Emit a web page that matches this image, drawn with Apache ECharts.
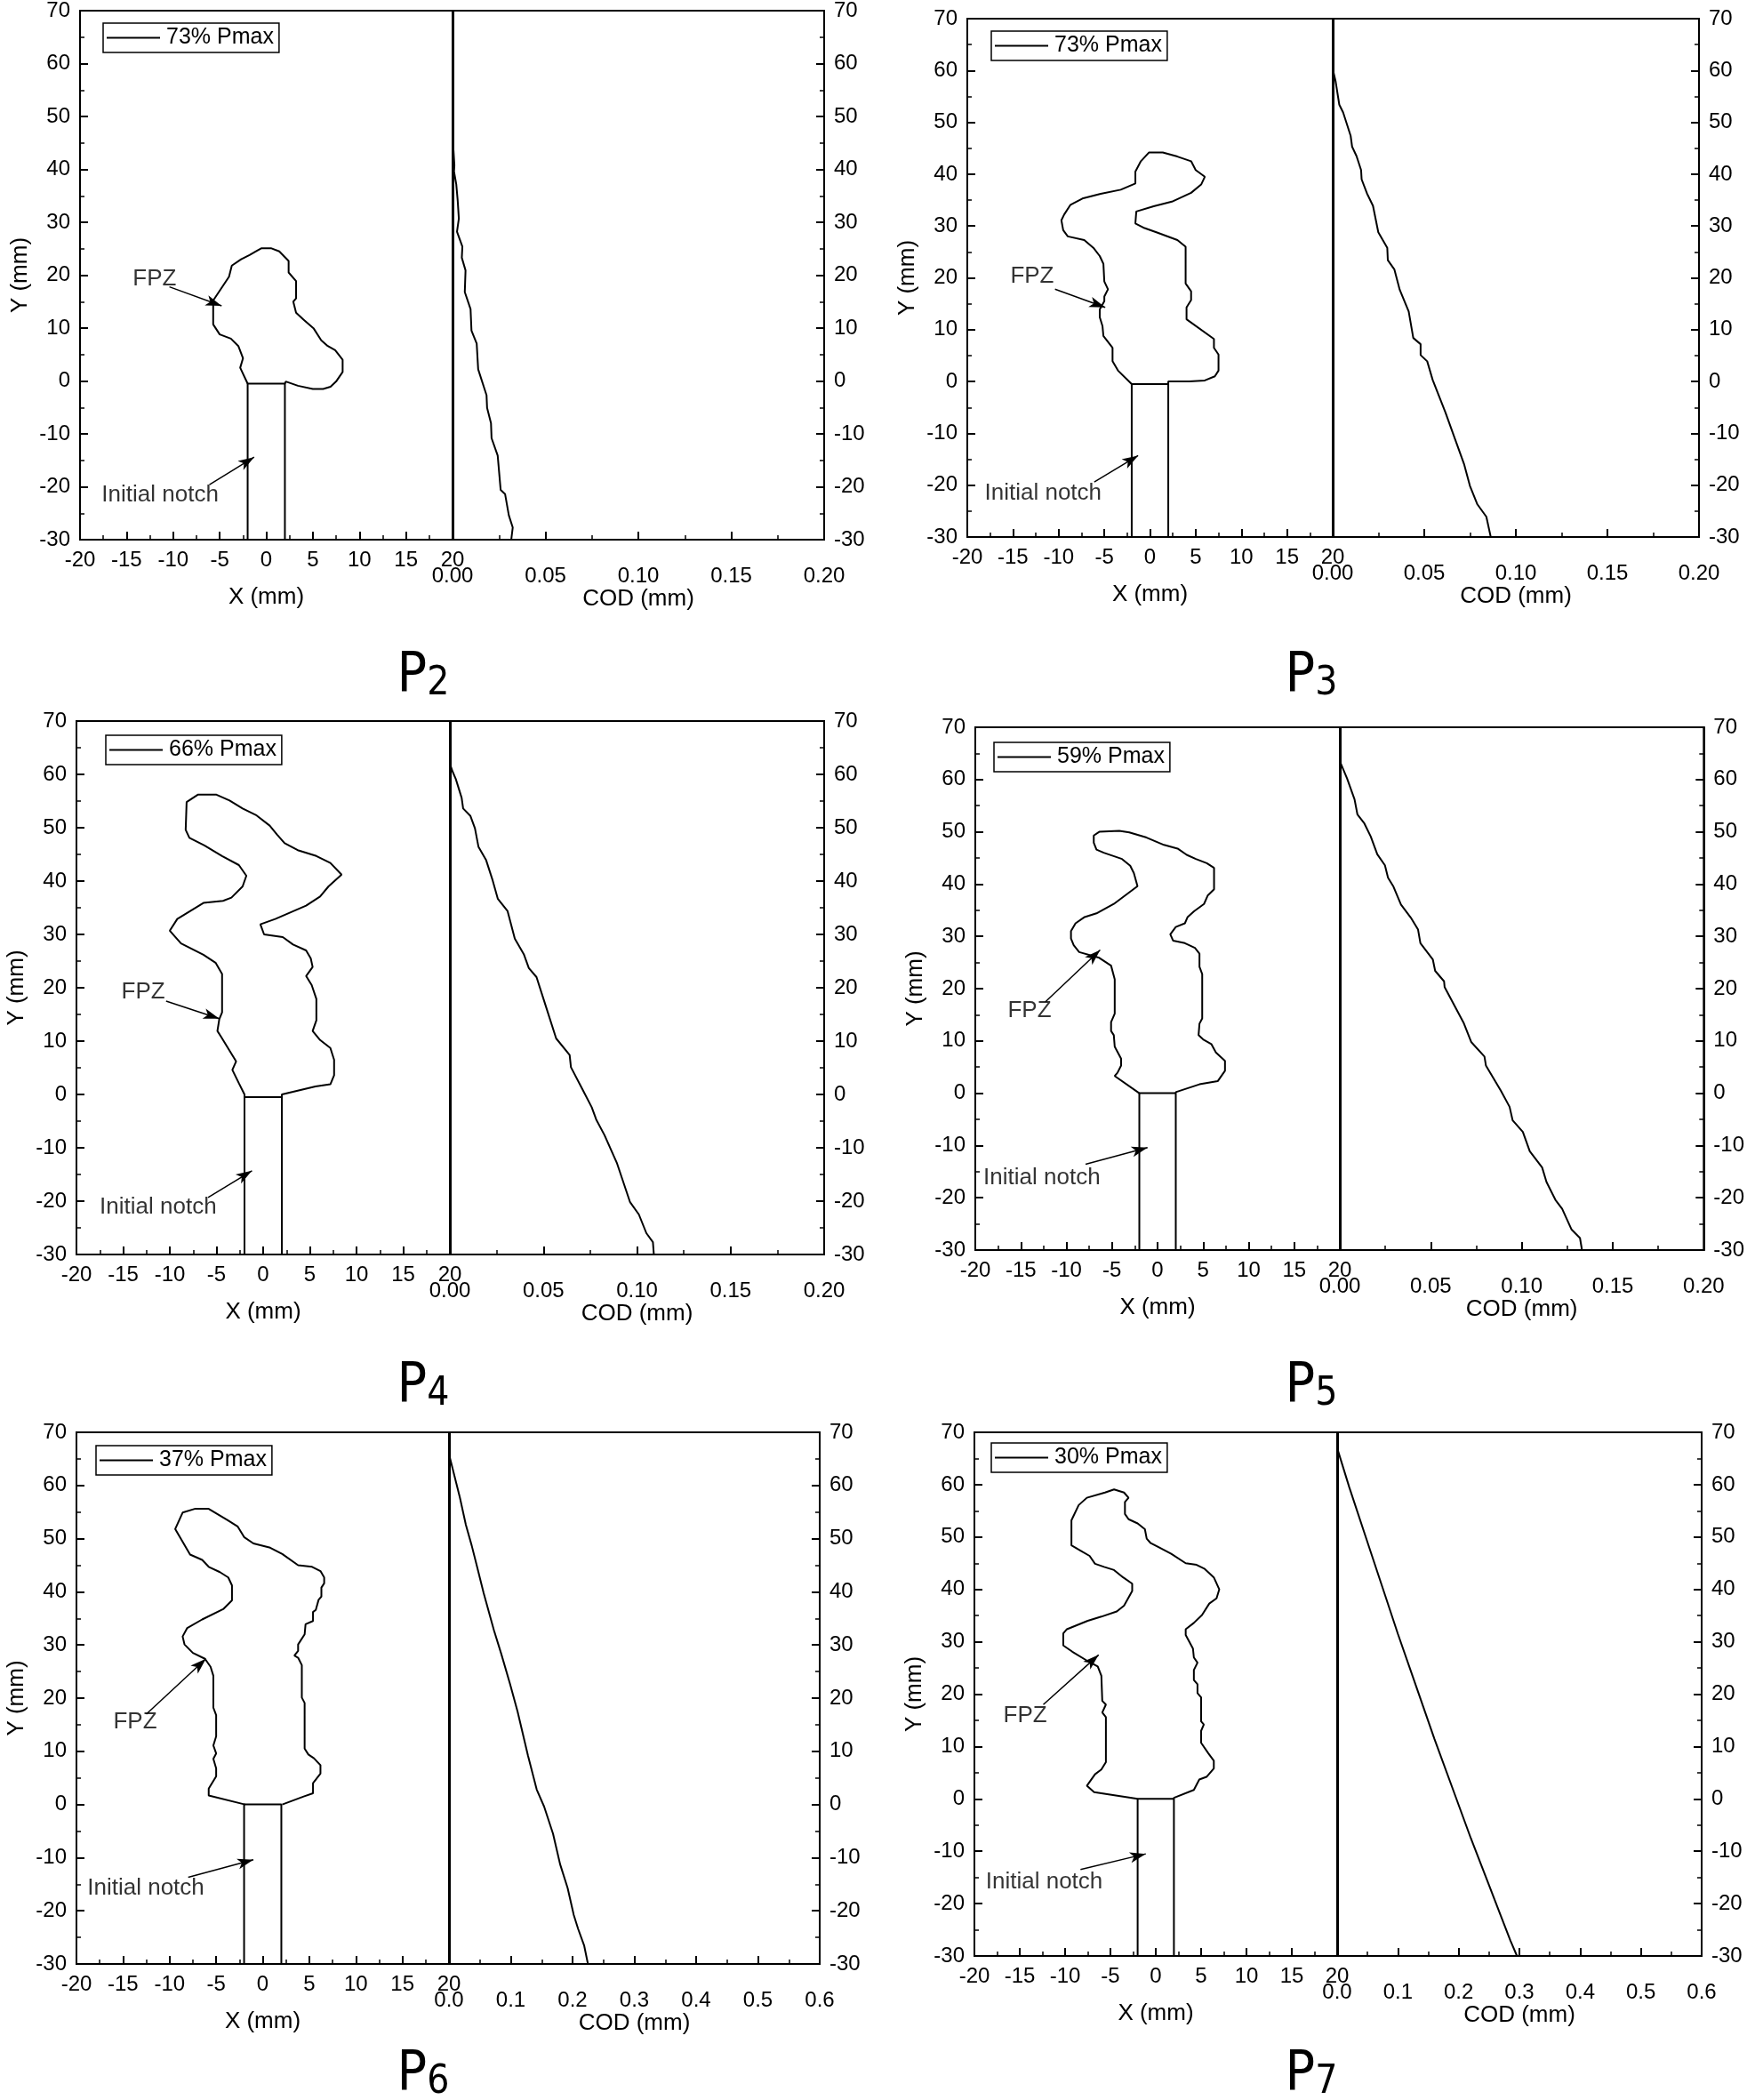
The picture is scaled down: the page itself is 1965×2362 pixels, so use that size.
<!DOCTYPE html>
<html><head><meta charset="utf-8">
<script src="https://cdn.jsdelivr.net/npm/echarts/dist/echarts.min.js"></script>
<style>html,body{margin:0;padding:0;background:#fff}#c{width:1965px;height:2362px}</style>
</head><body><div id="c"></div>
<script>
// ---------- axis ranges / ticks ----------
const yRange = {min:-30, max:70, interval:10};
const xRange = {min:-20, max:20, interval:5};
const codRangeSmall = {min:0, max:0.2, interval:0.05};
const codRangeLarge = {min:0, max:0.6, interval:0.1};

// ---------- panel labels ----------
const panelSubs = ['2','3','4','5','6','7'];
const loadLabels = ['73% Pmax','73% Pmax','66% Pmax','59% Pmax','37% Pmax','30% Pmax'];
const codDecimals = [2,2,2,2,1,1];

// ---------- initial notch ----------
const notchHalfWidth = 2;
const notchBottom = -30;
const notchTops = [-0.5,-0.5,-0.5,0,0,0];

// ---------- FPZ outlines (X mm, Y mm) ----------
const p2Fpz = [[-2.0,-0.5],[-2.0,-0.3],[-2.8,2.5],[-2.5,4.3],[-3.0,6.6],[-3.8,8.0],[-5.0,8.8],[-5.7,10.7],[-5.7,15.2],[-4.0,19.7],[-3.7,21.8],[-2.7,23.0],[-1.8,23.8],[-1.1,24.5],[-0.5,25.1],[0.5,25.1],[1.4,24.5],[2.4,22.7],[2.4,20.5],[3.2,18.9],[3.2,15.6],[2.9,15.0],[3.2,12.9],[4.0,11.6],[5.1,9.9],[5.9,7.7],[6.6,6.6],[7.4,5.8],[8.2,4.0],[8.2,1.7],[7.5,-0.1],[6.9,-1.1],[6.1,-1.5],[5.0,-1.5],[3.4,-0.9],[2.1,-0.1],[2.0,-0.5]];
const p3Fpz = [[-2.0,-0.5],[-2.0,-0.3],[-3.5,2.1],[-4.1,3.9],[-4.1,6.5],[-5.1,8.8],[-5.2,10.7],[-5.5,12.4],[-5.5,13.9],[-5.0,15.5],[-5.0,16.4],[-4.6,17.8],[-5.0,19.3],[-5.1,22.7],[-5.5,24.2],[-6.2,25.8],[-7.2,27.3],[-9.0,28.0],[-9.5,29.2],[-9.7,31.1],[-9.4,32.2],[-8.7,34.1],[-7.4,35.3],[-5.4,36.2],[-3.2,37.0],[-1.6,38.2],[-1.6,40.5],[-1.0,42.5],[-0.1,44.2],[1.4,44.2],[3.0,43.4],[4.5,42.5],[5.0,40.8],[6.0,39.5],[5.6,38.0],[4.5,36.4],[2.4,34.7],[0.4,33.8],[-1.5,32.8],[-1.6,30.5],[-0.6,29.6],[0.7,28.8],[3.0,27.3],[3.9,26.0],[3.9,18.9],[4.5,17.4],[4.5,15.7],[4.0,14.3],[4.0,12.0],[7.0,8.2],[7.0,6.5],[7.5,5.2],[7.5,2.1],[7.1,1.0],[6.0,0.2],[4.3,0.0],[2.0,0.0],[2.0,-0.5]];
const p4Fpz = [[-2.0,-0.5],[-2.0,0],[-2.6,2.1],[-3.3,4.6],[-2.9,6.2],[-4.5,10.8],[-4.9,11.9],[-4.7,14.1],[-4.4,15.4],[-4.4,22.6],[-5.1,24.7],[-6.4,26.2],[-8.8,28.3],[-10.0,30.7],[-9.2,32.9],[-6.4,35.9],[-4.3,36.3],[-3.4,36.9],[-2.2,39.0],[-1.8,41.0],[-2.6,43.0],[-4.4,44.7],[-6.3,46.7],[-7.9,48.1],[-8.3,49.6],[-8.2,54.8],[-7.0,56.2],[-5.0,56.2],[-3.6,55.1],[-2.2,53.6],[-0.7,52.3],[0.7,50.4],[1.5,48.7],[2.3,47.1],[3.7,45.8],[5.7,44.7],[7.2,43.4],[8.4,41.2],[7.0,39.0],[6.1,37.1],[4.6,35.4],[1.3,32.9],[-0.3,31.9],[0.1,30.0],[2.1,29.5],[3.2,28.1],[4.6,27.0],[5.1,25.5],[5.3,23.9],[4.6,22.2],[5.2,20.5],[5.7,17.9],[5.7,13.9],[5.3,11.9],[6.1,10.2],[7.2,8.7],[7.6,6.5],[7.6,3.6],[7.2,1.9],[5.6,1.5],[2.0,0],[2.0,-0.5]];
const p5Fpz = [[-2.0,0],[-2.0,0.2],[-4.7,3.3],[-4.4,3.9],[-4.0,5.3],[-4.0,6.6],[-4.7,8.9],[-4.8,11.1],[-5.1,11.9],[-5.1,13.6],[-4.7,15.2],[-4.7,21.8],[-5.1,24.4],[-6.4,25.9],[-8.6,27.0],[-9.2,28.3],[-9.5,29.6],[-9.5,31.0],[-9.0,32.5],[-8.0,33.7],[-6.7,34.4],[-4.8,36.2],[-2.2,39.6],[-2.6,42.1],[-3.0,43.5],[-3.9,44.8],[-5.9,46.0],[-6.7,46.6],[-7.0,47.9],[-7.0,49.3],[-6.4,50.0],[-4.2,50.2],[-3.1,49.9],[-1.2,48.9],[0.7,47.5],[2.2,46.8],[3.2,45.6],[4.2,44.8],[5.4,44.0],[6.2,43.1],[6.2,39.0],[5.5,37.8],[5.1,36.2],[4.0,34.8],[3.3,33.7],[3.0,32.5],[2.0,31.8],[1.4,30.4],[1.7,29.2],[3.0,28.7],[4.1,27.8],[4.6,26.7],[4.6,24.2],[4.9,22.8],[4.9,14.3],[4.6,13.3],[4.5,11.1],[5.0,10.3],[5.9,9.4],[6.4,7.8],[7.4,6.2],[7.4,4.3],[6.6,2.3],[4.6,1.7],[2.0,0.2],[2.0,0]];
const p6Fpz = [[-1.9,0],[-5.8,1.7],[-5.8,3.0],[-5.0,5.3],[-5.0,6.8],[-5.3,8.6],[-5.0,9.6],[-5.3,11.1],[-5.0,12.8],[-5.0,16.8],[-5.3,18.2],[-5.3,24.2],[-5.6,25.9],[-6.2,27.4],[-7.5,28.5],[-8.4,30.1],[-8.6,31.6],[-8.1,33.2],[-6.5,34.8],[-4.2,36.8],[-3.3,38.4],[-3.3,41.2],[-3.7,42.7],[-4.6,43.7],[-5.8,44.7],[-6.5,46.0],[-7.8,47.0],[-8.8,50.0],[-9.4,51.8],[-8.6,54.9],[-7.3,55.6],[-5.8,55.6],[-3.8,53.5],[-2.7,52.3],[-2.0,50.3],[-1.0,49.1],[0.8,48.3],[2.1,47.1],[3.8,45.0],[5.3,44.7],[6.2,43.9],[6.6,42.7],[6.6,41.6],[6.3,40.8],[6.3,39.1],[6.0,38.5],[5.7,36.6],[5.4,36.2],[5.4,34.5],[4.6,33.9],[4.5,32.0],[3.8,30.1],[3.8,28.9],[3.4,28.0],[3.8,27.6],[4.2,26.2],[4.2,20.1],[4.5,19.1],[4.5,10.5],[4.9,9.4],[5.5,8.7],[6.2,7.4],[6.2,5.8],[5.4,4.0],[5.4,2.1],[4.4,1.5],[2.1,0]];
const p7Fpz = [[-2.0,0],[-2.0,0.2],[-6.8,1.3],[-7.6,2.5],[-6.7,4.7],[-6.0,5.6],[-5.5,7.0],[-5.5,15.6],[-5.9,16.5],[-5.5,18.0],[-5.9,18.7],[-6.0,23.5],[-6.4,25.3],[-7.4,26.2],[-9.2,28.1],[-10.2,29.3],[-10.2,31.6],[-9.8,32.4],[-7.5,34.0],[-6.0,34.8],[-4.3,35.8],[-3.5,36.9],[-2.6,39.7],[-2.6,41.1],[-3.6,42.3],[-4.6,43.7],[-5.7,44.3],[-6.7,44.9],[-7.3,46.4],[-8.3,47.4],[-9.3,48.4],[-9.3,53.2],[-8.5,56.1],[-7.6,57.5],[-5.6,58.5],[-4.6,59.1],[-3.5,58.5],[-3.0,57.5],[-3.4,56.7],[-3.4,54.4],[-3.0,53.4],[-2.0,52.6],[-1.2,51.5],[-1.0,49.7],[-0.6,48.9],[0.4,48.0],[1.7,46.8],[3.3,45.0],[4.5,44.7],[5.4,43.9],[6.4,42.3],[7.0,40.0],[6.7,38.3],[5.9,37.3],[5.1,35.1],[4.2,33.6],[3.3,32.4],[3.3,31.3],[4.1,28.7],[4.2,27.0],[4.6,26.0],[4.2,24.6],[4.2,22.7],[4.6,21.9],[4.6,20.2],[5.0,19.4],[5.0,14.8],[5.3,14.2],[5.0,13.0],[5.0,10.7],[5.8,8.7],[6.4,7.3],[6.4,5.8],[5.6,4.2],[4.8,3.7],[4.2,1.7],[2.0,0.2],[2.0,0]];

// ---------- COD profiles (COD mm, Y mm) ----------
const p2Cod = [[0.0005,43.7],[0.001,40.8],[0.0008,39.6],[0.002,37.2],[0.0028,34],[0.0034,30.7],[0.0024,28.2],[0.0053,25.4],[0.005,23.3],[0.007,20.9],[0.0066,16.8],[0.0097,13.6],[0.0102,9.5],[0.013,7.1],[0.0138,2.2],[0.0183,-2.7],[0.0186,-5.1],[0.0207,-8],[0.021,-10.8],[0.0243,-14.1],[0.0259,-20.6],[0.0283,-21.4],[0.0303,-25.4],[0.0324,-27.7],[0.0316,-30]];
const p3Cod = [[0,60.3],[0.0016,57.9],[0.0036,53.4],[0.0057,51.9],[0.0098,47.4],[0.0106,45.3],[0.013,43.5],[0.0155,40.8],[0.0158,39.0],[0.0187,36.3],[0.022,33.9],[0.0249,28.8],[0.0298,25.8],[0.0301,23.4],[0.0337,21.6],[0.0366,17.7],[0.0415,13.5],[0.044,8.4],[0.048,7.2],[0.048,5.1],[0.0516,3.9],[0.0546,0.3],[0.0616,-6.0],[0.0668,-11.1],[0.0717,-15.9],[0.0749,-20.1],[0.079,-23.7],[0.0839,-26.1],[0.0863,-30]];
const p4Cod = [[0,62],[0.0015,60.5],[0.0032,59.1],[0.0063,55.6],[0.0071,53.6],[0.011,52.2],[0.0134,49.9],[0.0153,46.4],[0.0194,43.9],[0.0229,40.1],[0.0256,36.7],[0.0308,34.4],[0.0347,29.2],[0.0395,26.3],[0.0422,23.7],[0.0463,22.0],[0.0505,17.4],[0.0568,10.5],[0.064,7.4],[0.0647,5.1],[0.0711,0.8],[0.0758,-2.4],[0.0782,-4.7],[0.0826,-7.6],[0.0892,-12.8],[0.0963,-20.2],[0.101,-22.5],[0.105,-26.0],[0.1085,-27.7],[0.109,-30]];
const p5Cod = [[0,63.5],[0.004,60.2],[0.0081,56.2],[0.0097,53.3],[0.0135,51.6],[0.017,49.1],[0.0206,45.7],[0.0248,43.6],[0.0265,41.2],[0.0295,39.5],[0.0336,36.1],[0.039,33.6],[0.043,31.3],[0.0443,28.7],[0.0511,25.6],[0.0524,23.4],[0.0573,21.4],[0.0576,20.3],[0.068,13.5],[0.0722,9.8],[0.0795,7.0],[0.0803,5.3],[0.0885,0.5],[0.0933,-2.6],[0.095,-5.2],[0.1006,-7.4],[0.1044,-11.1],[0.1112,-14.2],[0.1136,-17.0],[0.1185,-20.4],[0.1222,-22.1],[0.1274,-26.1],[0.132,-27.7],[0.1331,-30]];
const p6Cod = [[0,65.9],[0.0177,57.7],[0.0273,52.6],[0.0368,48.7],[0.0464,44.3],[0.056,39.8],[0.0727,32.8],[0.0847,28.3],[0.099,22.6],[0.111,17.5],[0.1278,9.2],[0.142,2.8],[0.154,-0.4],[0.1684,-5.5],[0.18,-11.3],[0.192,-15.7],[0.202,-20.8],[0.209,-23.4],[0.2187,-26.5],[0.2249,-30]];
const p7Cod = [[0,67],[0.02,59.5],[0.05,49],[0.08,38.5],[0.10,31.5],[0.13,21.5],[0.16,11.5],[0.19,2],[0.22,-7.5],[0.25,-16.5],[0.27,-22.5],[0.285,-27],[0.296,-30]];

// ---------- annotations (text centre & arrow start/end, data units) ----------
const fpzLabelPos = [[-12.0,19.3],[-12.9,20.3],[-12.85,19.2],[-14.05,15.7],[-13.7,15.5],[-14.4,15.9]];
const fpzArrows = [[[-10.4,17.8],[-4.8,14.2]],[[-10.4,17.8],[-4.9,14.3]],[[-10.4,17.5],[-4.7,14.2]],[[-12.3,17.5],[-6.3,27.4]],[[-12.5,17.0],[-6.1,27.4]],[[-12.4,18.0],[-6.3,27.5]]];
const notchLabelPos = [[-11.4,-21.5],[-11.7,-21.5],[-11.25,-21.2],[-12.7,-16.2],[-12.55,-15.8],[-12.3,-15.8]];
const notchArrows = [[[-6.1,-19.6],[-1.3,-14.4]],[[-6.1,-19.4],[-1.3,-14.3]],[[-5.9,-19.3],[-1.2,-14.3]],[[-7.9,-13.6],[-1.1,-10.4]],[[-8.0,-13.7],[-1.0,-10.4]],[[-8.3,-13.5],[-1.1,-10.5]]];

const fpzData = [p2Fpz,p3Fpz,p4Fpz,p5Fpz,p6Fpz,p7Fpz];
const codData = [p2Cod,p3Cod,p4Cod,p5Cod,p6Cod,p7Cod];

// ---------- page layout (pixels) ----------
const layout = [
  {left:90,  div:509,  right:927,  top:12,   bottom:607,  legend:[116,26],   title:[476,730]},
  {left:1088,div:1499, right:1911, top:21,   bottom:604,  legend:[1115,35],  title:[1475,730]},
  {left:86,  div:506,  right:927,  top:811,  bottom:1411, legend:[119,827],  title:[476,1529]},
  {left:1097,div:1507, right:1917, top:818,  bottom:1406, legend:[1118,835], title:[1475,1529]},
  {left:86,  div:505,  right:922,  top:1611, bottom:2209, legend:[108,1626], title:[476,2303]},
  {left:1096,div:1504, right:1914, top:1611, bottom:2200, legend:[1115,1623],title:[1475,2303]}
];

const FONT = "'Liberation Sans', Arial, Helvetica, sans-serif";
function pickFont(cands, fallback) {
  const ctx = document.createElement('canvas').getContext('2d');
  const s = 'PPPP2222mmwi';
  for (const f of cands) {
    ctx.font = '60px monospace'; const w0 = ctx.measureText(s).width;
    ctx.font = '60px "' + f + '", monospace'; const w1 = ctx.measureText(s).width;
    if (Math.abs(w1 - w0) > 0.5) return '"' + f + '"';
  }
  return fallback;
}
const NARROW = pickFont(['Liberation Sans Narrow','Arial Narrow','DejaVu Sans Condensed','Roboto Condensed','Open Sans Condensed','Noto Sans Condensed'], FONT);
const narrowFound = NARROW !== FONT;
const BLACK = '#000';

function axisBase() {
  return {
    axisLine:{show:true, onZero:false, lineStyle:{color:BLACK, width:2}},
    axisTick:{show:true, inside:true, length:9, lineStyle:{color:BLACK, width:2}},
    minorTick:{show:true, splitNumber:2, length:5, lineStyle:{color:BLACK, width:1.5}},
    splitLine:{show:false}, minorSplitLine:{show:false},
    axisLabel:{color:BLACK, fontSize:24, fontFamily:FONT, margin:11},
    nameTextStyle:{color:BLACK, fontSize:26, fontFamily:FONT}
  };
}

const grids = [], xAxes = [], yAxes = [], series = [], legends = [], titles = [];

layout.forEach((L, i) => {
  const gl = 2*i, gr = 2*i+1;
  const h = L.bottom - L.top;
  grids.push({left:L.left, top:L.top, width:L.div-L.left, height:h, show:true, borderColor:BLACK, borderWidth:2, backgroundColor:'transparent'});
  grids.push({left:L.div, top:L.top, width:L.right-L.div, height:h, show:true, borderColor:BLACK, borderWidth:2, backgroundColor:'transparent'});

  xAxes.push(Object.assign(axisBase(), {
    type:'value', gridIndex:gl, position:'bottom', min:xRange.min, max:xRange.max, interval:xRange.interval,
    name:'X (mm)', nameLocation:'middle', nameGap:52
  }));
  const codR = codDecimals[i] === 2 ? codRangeSmall : codRangeLarge;
  const dec = codDecimals[i];
  const cx = axisBase();
  cx.axisLabel.margin = 29;
  cx.axisLabel.formatter = v => v.toFixed(dec);
  xAxes.push(Object.assign(cx, {
    type:'value', gridIndex:gr, position:'bottom', min:codR.min, max:codR.max, interval:codR.interval,
    name:'COD (mm)', nameLocation:'middle', nameGap:52
  }));
  const yl = axisBase(); yl.axisLabel.margin = 11;
  yAxes.push(Object.assign(yl, {
    type:'value', gridIndex:gl, position:'left', min:yRange.min, max:yRange.max, interval:yRange.interval,
    name:'Y (mm)', nameLocation:'middle', nameGap:54, nameRotate:90
  }));
  const yr = axisBase(); yr.axisLabel.margin = 11;
  yAxes.push(Object.assign(yr, {
    type:'value', gridIndex:gr, position:'right', min:yRange.min, max:yRange.max, interval:yRange.interval
  }));

  const nt = notchTops[i];
  series.push({
    name:'notch'+i, type:'line', xAxisIndex:gl, yAxisIndex:gl, symbol:'none', silent:true,
    lineStyle:{color:BLACK, width:2}, z:3,
    data:[[-notchHalfWidth, notchBottom],[-notchHalfWidth, nt],[notchHalfWidth, nt],[notchHalfWidth, notchBottom]],
    markLine:{silent:true, symbol:['none','none'], label:{show:false}, animation:false,
      lineStyle:{color:BLACK, width:3, type:'solid'}, data:[{xAxis:xRange.max}]}
  });
  series.push({
    name:'fpz'+i, type:'line', xAxisIndex:gl, yAxisIndex:gl, symbol:'none', silent:true,
    lineStyle:{color:BLACK, width:2}, data:fpzData[i]
  });
  series.push({
    name:'ann'+i, type:'scatter', xAxisIndex:gl, yAxisIndex:gl, symbolSize:1, silent:true,
    itemStyle:{color:'rgba(0,0,0,0)'},
    label:{show:true, position:'inside', color:BLACK, fontSize:26, fontFamily:FONT, formatter:p => p.data[2]},
    data:[[fpzLabelPos[i][0], fpzLabelPos[i][1], 'FPZ'], [notchLabelPos[i][0], notchLabelPos[i][1], 'Initial notch']],
    markLine:{silent:true, animation:false, symbol:['none','arrow'], symbolSize:[9,18], label:{show:false},
      lineStyle:{color:BLACK, width:1.5, type:'solid'},
      data:[
        [{coord:fpzArrows[i][0]},{coord:fpzArrows[i][1]}],
        [{coord:notchArrows[i][0]},{coord:notchArrows[i][1]}]
      ]}
  });
  series.push({
    name:loadLabels[i], type:'line', xAxisIndex:gr, yAxisIndex:gr, symbol:'none', showSymbol:false,
    lineStyle:{color:BLACK, width:2}, itemStyle:{color:BLACK}, data:codData[i]
  });

  legends.push({
    data:[loadLabels[i]], left:L.legend[0], top:L.legend[1], orient:'horizontal',
    borderColor:BLACK, borderWidth:1.5, borderRadius:0, padding:[4,6,4,4],
    icon:'rect', itemWidth:60, itemHeight:2, itemGap:5, selectedMode:false,
    itemStyle:{color:BLACK, borderWidth:0},
    textStyle:{color:BLACK, fontSize:25, fontFamily:FONT, padding:[0,0,0,2]}
  });

  titles.push({
    text:'{p|P}{s|' + panelSubs[i] + '}', left:L.title[0], top:L.title[1], textAlign:'center', padding:0,
    textStyle:{fontWeight:'normal', rich:{
      p:{fontSize:narrowFound ? 62 : 56, fontFamily:NARROW, fontWeight:'normal', color:BLACK, lineHeight:62, verticalAlign:'top'},
      s:{fontSize:narrowFound ? 44 : 40, fontFamily:NARROW, fontWeight:'normal', color:BLACK, lineHeight:44, padding:[38,0,0,0], verticalAlign:'bottom'}
    }}
  });
});

const chart = echarts.init(document.getElementById('c'), null, {renderer:'canvas'});
chart.setOption({
  animation:false,
  backgroundColor:'#fff',
  title:titles,
  legend:legends,
  grid:grids,
  xAxis:xAxes,
  yAxis:yAxes,
  series:series
});
</script></body></html>
